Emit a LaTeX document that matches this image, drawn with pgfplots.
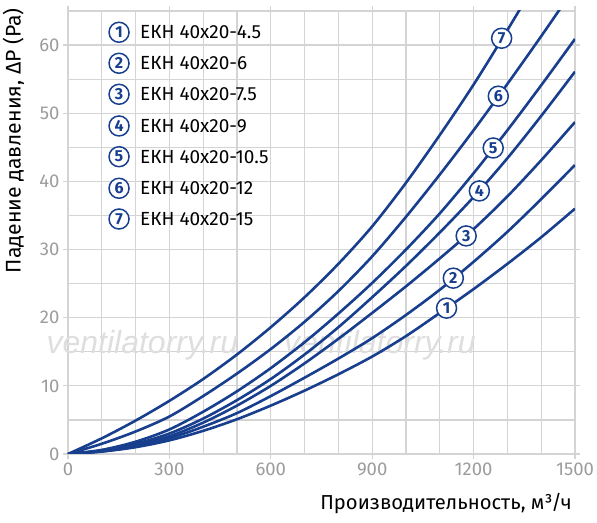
\documentclass[border=0pt]{standalone}
\usepackage{fontspec}
\setmainfont{Fira Sans}
\newfontfamily\wmfont{Liberation Sans}
\usepackage{pgfplots}
\pgfplotsset{compat=1.18}
\definecolor{cblue}{HTML}{183E8E}
\definecolor{cgrid}{HTML}{D4D4D4}
\definecolor{ctick}{HTML}{9C9C9C}
\tikzset{cnum/.style={circle, draw=cblue, fill=white, line width=1.5pt,
  minimum size=20pt, inner sep=0pt, text=cblue,
  font=\fontsize{16}{16}\selectfont\bfseries},
  crv/.style={cblue, line width=2.6pt, smooth, mark=none}}
\begin{document}
\begin{tikzpicture}
\begin{axis}[
  name=ax,
  scale only axis, width=507pt, height=443pt,
  xmin=0, xmax=1500, ymin=0, ymax=65,
  xtick={0,300,...,1500}, ytick={0,10,...,60},
  minor xtick={100,200,400,500,700,800,1000,1100,1300,1400},
  minor ytick={5,15,...,65},
  grid=both,
  major grid style={cgrid, line width=1.2pt},
  minor grid style={cgrid, line width=1.2pt},
  axis line style={cgrid, line width=1.2pt},
  tick align=outside, major tick length=5pt, minor tick length=0pt,
  tick style={cgrid, line width=1.2pt},
  ticklabel style={font=\fontsize{18.5}{20}\selectfont, text=ctick},
  /pgf/number format/assume math mode=true,
  /pgf/number format/1000 sep={},
  xlabel={Производительность, м³/ч},
  ylabel={Падение давления, ΔP (Pa)},
  label style={inner sep=0pt},
  xlabel style={font=\fontsize{20.2}{22}\selectfont, at={(axis description cs:0.9941,-0.1264)}, anchor=base east},
  ylabel style={font=\fontsize{21.2}{22}\selectfont, at={(axis description cs:-0.0933,1.0068)}, anchor=base east},
  clip mode=individual,
]
% watermark
\node[inner sep=0pt, text=black!13, font=\wmfont\itshape\fontsize{32}{32}\selectfont] at (axis cs:220,15.9) {ventilatorry.ru};
\node[inner sep=0pt, text=black!13, font=\wmfont\itshape\fontsize{32}{32}\selectfont] at (axis cs:923,15.9) {ventilatorry.ru};
% 1
\addplot[crv] coordinates {(0,0)(100,0.35)(200,1.0)(300,2.0)(400,3.4)(500,5.1)(600,7.1)(700,9.3)(800,11.7)(900,14.3)(1000,17.3)(1100,20.7)(1200,24.2)(1300,27.9)(1400,31.8)(1500,36.0)};
% 2
\addplot[crv] coordinates {(0,0)(100,0.4)(200,1.1)(300,2.3)(400,4.0)(500,6.0)(600,8.5)(700,11.2)(800,14.0)(900,17.0)(1000,20.4)(1100,24.1)(1200,28.2)(1300,32.6)(1400,37.4)(1500,42.4)};
% 3
\addplot[crv] coordinates {(0,0)(100,0.45)(200,1.3)(300,2.6)(400,4.6)(500,7.1)(600,10.0)(700,13.3)(800,16.9)(900,20.7)(1000,24.6)(1100,28.7)(1200,33.0)(1300,37.8)(1400,43.1)(1500,48.7)};
% 4
\addplot[crv] coordinates {(0,0)(100,0.5)(200,1.5)(300,3.0)(400,5.2)(500,7.9)(600,11.0)(700,14.6)(800,18.6)(900,23.0)(1000,27.6)(1100,32.5)(1200,37.7)(1300,43.4)(1400,49.6)(1500,56.1)};
% 5
\addplot[crv] coordinates {(0,0)(100,0.6)(200,1.8)(300,3.6)(400,6.2)(500,9.2)(600,12.6)(700,16.4)(800,20.6)(900,25.1)(1000,30.0)(1100,35.3)(1200,41.2)(1300,47.5)(1400,54.1)(1500,60.9)};
% 6
\addplot[crv] coordinates {(0,0)(100,1.5)(200,3.3)(300,5.5)(400,8.5)(500,11.8)(600,15.4)(700,19.4)(800,23.9)(900,29.0)(1000,34.8)(1100,41.0)(1200,47.5)(1300,54.3)(1400,61.3)(1500,68.5)};
% 7
\addplot[crv] coordinates {(0,0)(100,2.3)(200,4.9)(300,7.8)(400,11.0)(500,14.6)(600,18.6)(700,23.0)(800,27.9)(900,33.4)(1000,39.8)(1100,46.8)(1200,54.2)(1300,62.2)(1400,70.5)};
% curve labels
\node[cnum] at (axis cs:1120,21.4) {1};
\node[cnum] at (axis cs:1140,25.8) {2};
\node[cnum] at (axis cs:1178,32.0) {3};
\node[cnum] at (axis cs:1217,38.6) {4};
\node[cnum] at (axis cs:1258,44.9) {5};
\node[cnum] at (axis cs:1273,52.5) {6};
\node[cnum] at (axis cs:1283,61.0) {7};
% legend
\node[cnum] at (axis cs:151,61.88) {1};
\node[cnum] at (axis cs:151,57.33) {2};
\node[cnum] at (axis cs:151,52.78) {3};
\node[cnum] at (axis cs:151,48.13) {4};
\node[cnum] at (axis cs:151,43.62) {5};
\node[cnum] at (axis cs:151,38.99) {6};
\node[cnum] at (axis cs:151,34.48) {7};
\begin{scope}[every node/.style={anchor=west, inner sep=0pt, font=\fontsize{19}{22}\selectfont}]
\node at (axis cs:213,61.88) {ЕКН 40x20-4.5};
\node at (axis cs:213,57.33) {ЕКН 40x20-6};
\node at (axis cs:213,52.78) {ЕКН 40x20-7.5};
\node at (axis cs:213,48.13) {ЕКН 40x20-9};
\node at (axis cs:213,43.62) {ЕКН 40x20-10.5};
\node at (axis cs:213,38.99) {ЕКН 40x20-12};
\node at (axis cs:213,34.48) {ЕКН 40x20-15};
\end{scope}
\end{axis}
\pgfresetboundingbox
\path ([shift={(-68pt,-69pt)}]ax.south west) rectangle ([shift={(22pt,11pt)}]ax.north east);
\end{tikzpicture}
\end{document}
